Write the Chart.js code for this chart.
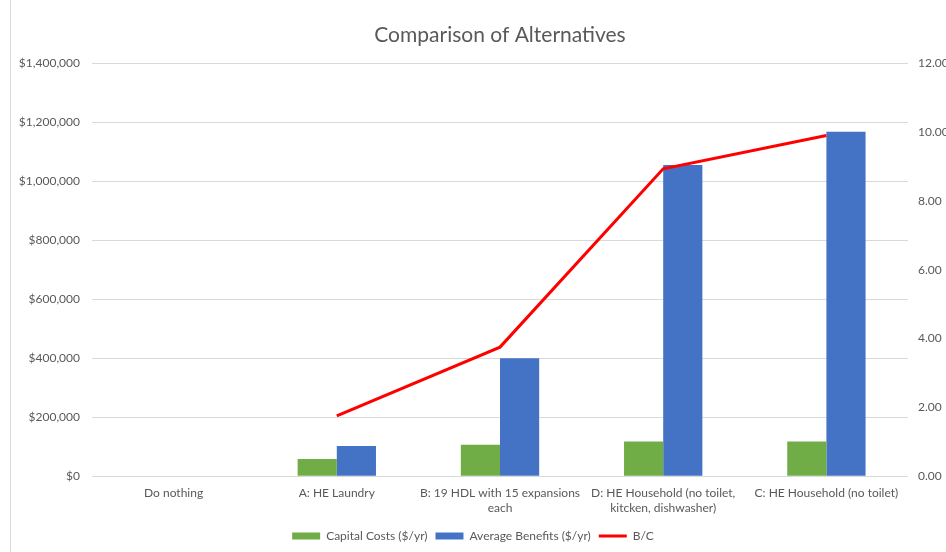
<!DOCTYPE html>
<html>
<head>
<meta charset="utf-8">
<script src="https://cdn.jsdelivr.net/npm/chart.js@4.4.1/dist/chart.umd.min.js"></script>
<style>
  html, body { margin: 0; padding: 0; background: #fff; }
  #wrap { position: relative; width: 946px; height: 552px; }
  #edge { position: absolute; left: 10px; top: 0; width: 1px; height: 552px; background: #d9d9d9; }
</style>
</head>
<body>
<div id="wrap">
  <div id="edge"></div>
  <canvas id="altChart" width="946" height="552"></canvas>
</div>
<script>
const categories = [
  "Do nothing",
  "A: HE Laundry",
  ["B: 19 HDL with 15 expansions", "each"],
  ["D: HE Household (no toilet,", "kitcken, dishwasher)"],
  "C: HE Household (no toilet)"
];
const capitalCosts = [null, 58000, 107000, 118000, 118000];
const averageBenefits = [null, 102000, 400000, 1055000, 1168000];
const benefitCost = [null, 1.75, 3.75, 8.93, 9.9];

const textColor = "#595959";
const gridColor = "#d9d9d9";
const baseFont = { family: "Lato, 'Liberation Sans', sans-serif", size: 12 };

const money = (v) => "$" + Number(v).toLocaleString("en-US");

new Chart(document.getElementById("altChart"), {
  data: {
    labels: categories,
    datasets: [
      {
        type: "line",
        label: "B/C",
        data: benefitCost,
        yAxisID: "y1",
        borderColor: "#ff0000",
        backgroundColor: "#ff0000",
        borderWidth: 3,
        pointRadius: 0,
        pointStyle: "line",
        tension: 0,
        order: 0
      },
      {
        type: "bar",
        label: "Capital Costs ($/yr)",
        data: capitalCosts,
        yAxisID: "y",
        backgroundColor: "#70ad47",
        pointStyle: "rect",
        categoryPercentage: 0.48,
        barPercentage: 1,
        order: 1
      },
      {
        type: "bar",
        label: "Average Benefits ($/yr)",
        data: averageBenefits,
        yAxisID: "y",
        backgroundColor: "#4472c4",
        pointStyle: "rect",
        categoryPercentage: 0.48,
        barPercentage: 1,
        order: 2
      }
    ]
  },
  options: {
    responsive: false,
    animation: false,
    layout: { padding: { left: 0, right: 0, top: 0, bottom: 0 } },
    plugins: {
      title: {
        display: true,
        text: "Comparison of Alternatives",
        color: textColor,
        fullSize: false,
        font: { family: baseFont.family, size: 21, weight: "normal" },
        padding: { top: 23, bottom: 15 }
      },
      legend: {
        position: "bottom",
        labels: {
          color: textColor,
          font: baseFont,
          usePointStyle: true,
          pointStyleWidth: 28,
          boxHeight: 7,
          padding: 8,
          sort: (a, b) => (a.datasetIndex || 3) - (b.datasetIndex || 3)
        }
      },
      tooltip: { enabled: false }
    },
    scales: {
      x: {
        grid: { display: false },
        border: { display: false },
        ticks: { color: textColor, font: baseFont, maxRotation: 0, autoSkip: false, padding: 2 },
        afterFit: (scale) => { scale.height += 5; }
      },
      y: {
        position: "left",
        min: 0,
        max: 1400000,
        border: { display: false },
        grid: { color: gridColor, drawTicks: false },
        ticks: { stepSize: 200000, color: textColor, font: baseFont, padding: 12, callback: money },
        afterFit: (scale) => { scale.width = 92; }
      },
      y1: {
        position: "right",
        min: 0,
        max: 12,
        border: { display: false },
        grid: { display: false, drawTicks: false },
        ticks: { stepSize: 2, color: textColor, font: baseFont, padding: 10, callback: (v) => Number(v).toFixed(2) },
        afterFit: (scale) => { scale.width = 38; }
      }
    }
  }
});
</script>
</body>
</html>
